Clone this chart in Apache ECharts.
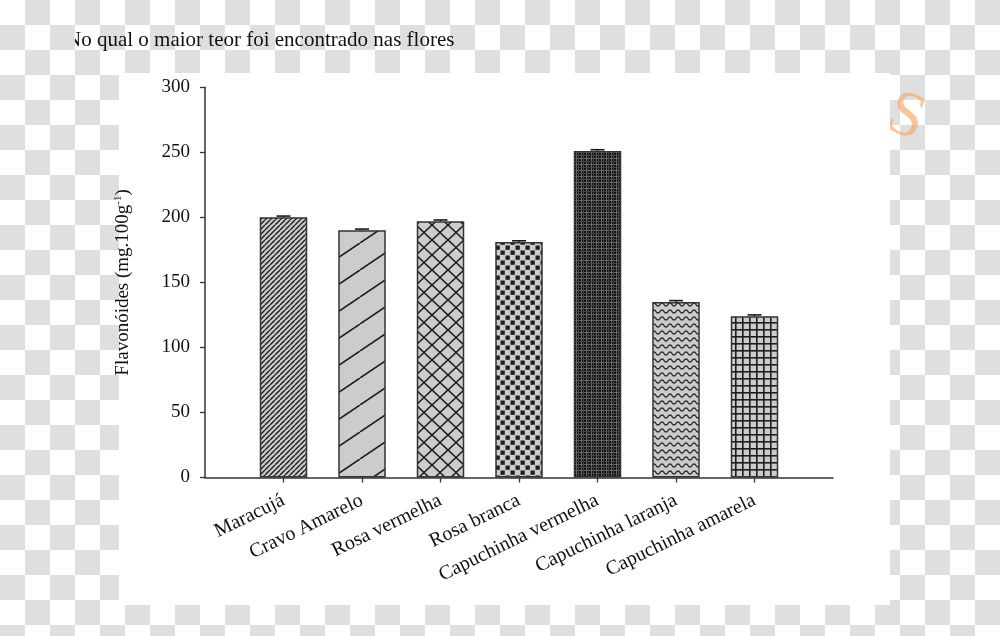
<!DOCTYPE html>
<html>
<head>
<meta charset="utf-8">
<script src="https://cdn.jsdelivr.net/npm/echarts@6/dist/echarts.min.js"></script>
<style>
html,body{margin:0;padding:0;width:1000px;height:636px;overflow:hidden;}
body{background:repeating-conic-gradient(#dfdfdf 0 25%, #ffffff 0 50%) 0 0/50px 50px;}
#chart{position:absolute;left:0;top:0;width:1000px;height:636px;}
#cover{position:absolute;left:50px;top:20px;width:25px;height:35px;background:repeating-conic-gradient(#dfdfdf 0 25%, #ffffff 0 50%) 0px -20px/50px 50px;}
</style>
</head>
<body>
<div id="chart"></div>
<div id="cover"></div>
<script>
// ---- data ----
const titleText = 'No qual o maior teor foi encontrado nas flores';
const categories = ['Maracujá', 'Cravo Amarelo', 'Rosa vermelha', 'Rosa branca', 'Capuchinha vermelha', 'Capuchinha laranja', 'Capuchinha amarela'];
const values = [200, 190, 197, 181, 251, 135, 124];
const errors = [1, 1, 1, 1, 1, 1, 1];
const yMin = 0, yMax = 300, yStep = 50;
const yAxisName = 'Flavonóides (mg.100g{sup|-1})';

// ---- hatch patterns (styling) ----
const BASE = '#cccccc', INK = '#1e1e1e';
function tile(w, h, draw, base) {
  const c = document.createElement('canvas');
  c.width = w; c.height = h;
  const g = c.getContext('2d');
  g.fillStyle = base || BASE; g.fillRect(0, 0, w, h);
  g.strokeStyle = INK; g.fillStyle = INK;
  draw(g, w, h);
  return { image: c, repeat: 'repeat' };
}
function diag(g, w, h, up) {
  for (let k = -1; k <= 1; k++) {
    g.beginPath();
    if (up) { g.moveTo(k * w, h); g.lineTo(k * w + w, 0); }
    else { g.moveTo(k * w, 0); g.lineTo(k * w + w, h); }
    g.stroke();
  }
}
const patterns = [
  tile(5, 5, (g, w, h) => { g.lineWidth = 1.4; diag(g, w, h, true); }),
  tile(40, 27, (g, w, h) => { g.lineWidth = 1.6; diag(g, w, h, true); }),
  tile(16, 15, (g, w, h) => { g.lineWidth = 1.6; diag(g, w, h, true); diag(g, w, h, false); }),
  tile(10, 10, (g) => { g.fillRect(0.5, 0.5, 4.3, 4.3); g.fillRect(5.5, 5.5, 4.3, 4.3); }),
  tile(5, 6, (g) => { g.fillStyle = '#6a6a6a'; g.fillRect(1, 0, 1, 6); g.fillRect(0, 2, 5, 1); g.fillStyle = '#444'; g.fillRect(3, 0, 1, 6); g.fillRect(0, 5, 5, 1); }, '#121212'),
  tile(8, 7, (g, w, h) => {
    g.lineWidth = 1.3; g.strokeStyle = '#2a2a2a'; g.beginPath();
    for (let x = -1; x <= w + 1; x += 0.5) { const y = 3.5 + 1.6 * Math.sin(2 * Math.PI * x / w); if (x === -1) g.moveTo(x, y); else g.lineTo(x, y); }
    g.stroke();
  }),
  tile(7, 7, (g) => { g.fillRect(0, 0, 7, 1.6); g.fillRect(0, 0, 1.6, 7); })
];

// padded category axis (empty slots at both ends give the outer axis margins)
const axisCats = [''].concat(categories, ['']);
const barData = ['-'].concat(values.map((v, i) => ({ value: v, itemStyle: { color: patterns[i] } })), ['-']);
const errData = values.map((v, i) => [i + 1, v, errors[i]]);

const FONT = 'Liberation Serif';
const chart = echarts.init(document.getElementById('chart'), null, { renderer: 'canvas' });
chart.setOption({
  backgroundColor: 'transparent',
  animation: false,
  title: {
    text: titleText, left: 66, top: 30, padding: 0,
    textStyle: { fontFamily: FONT, fontSize: 21, fontWeight: 'normal', color: '#111' }
  },
  graphic: [
    { type: 'text', z: -11, left: 878, top: 82, rotation: -0.35,
      style: { text: 'S', font: '64px "Liberation Serif"', fill: '#f4a764', opacity: 0.65 } },
    { type: 'rect', z: -10, shape: { x: 119, y: 73, width: 771, height: 532 }, style: { fill: '#ffffff' } }
  ],
  grid: { left: 205, right: 167, top: 87.3, bottom: 158.5, containLabel: false, outerBoundsMode: 'none' },
  xAxis: {
    type: 'category', data: axisCats, boundaryGap: false,
    axisLine: { lineStyle: { color: '#333', width: 1.5 } },
    axisTick: { length: 5, interval: (i, v) => v !== '', lineStyle: { color: '#333', width: 1.3 } },
    axisLabel: { interval: 0, rotate: 26, margin: 22, fontFamily: FONT, fontSize: 20, color: '#111' },
    splitLine: { show: false }
  },
  yAxis: {
    type: 'value', min: yMin, max: yMax, interval: yStep,
    name: yAxisName, nameLocation: 'middle', nameGap: 71,
    nameTextStyle: { fontFamily: FONT, fontSize: 19, color: '#111',
      rich: { sup: { fontFamily: FONT, fontSize: 11, color: '#111', verticalAlign: 'bottom', padding: [0, 0, 10, 0] } } },
    axisLine: { show: true, lineStyle: { color: '#333', width: 1.5 } },
    axisTick: { show: true, length: 5, lineStyle: { color: '#333', width: 1.3 } },
    axisLabel: { margin: 15, fontFamily: FONT, fontSize: 19, color: '#111' },
    splitLine: { show: false }
  },
  series: [
    {
      type: 'bar', data: barData, barWidth: 47.5,
      itemStyle: { borderColor: '#333', borderWidth: 1.5 }
    },
    {
      type: 'custom', data: errData, z: 5,
      renderItem: (params, api) => {
        const x = api.value(0), v = api.value(1), e = api.value(2);
        const p0 = api.coord([x, v]);
        const p1 = api.coord([x, v + e]);
        const half = 7;
        return {
          type: 'group',
          children: [
            { type: 'line', shape: { x1: p0[0], y1: p0[1], x2: p1[0], y2: p1[1] }, style: { stroke: '#1a1a1a', lineWidth: 1.4 } },
            { type: 'line', shape: { x1: p1[0] - half, y1: p1[1], x2: p1[0] + half, y2: p1[1] }, style: { stroke: '#1a1a1a', lineWidth: 1.6 } }
          ]
        };
      }
    }
  ]
});
</script>
</body>
</html>
